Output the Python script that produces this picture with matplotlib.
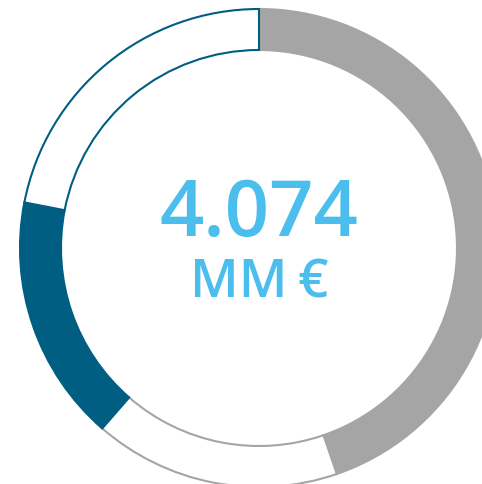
import matplotlib
matplotlib.use("Agg")
import matplotlib.pyplot as plt

# segment sizes (degrees of the ring), clockwise from 12 o'clock
segments = [161, 60, 60, 79]
face_colors = ['#A5A5A5', 'white', '#005E82', 'white']
edge_colors = ['#A5A5A5', '#A5A5A5', '#005E82', '#005E82']
value_text = '4.074'
unit_text = 'MM\u2009€'

W, H = 482, 485
fig = plt.figure(figsize=(W / 100, H / 100), dpi=100)
ax = fig.add_axes([0, 0, 1, 1])

cx, cy = 259, H - 249
r_out = 239
ring = 41

wedges, _ = ax.pie(segments, radius=r_out, center=(cx, cy), startangle=90,
                   counterclock=False, colors=face_colors,
                   wedgeprops=dict(width=ring, linewidth=1.5))
for w, ec in zip(wedges, edge_colors):
    w.set_edgecolor(ec)

ax.set_xlim(0, W)
ax.set_ylim(0, H)
ax.set_aspect('equal')
ax.axis('off')

ax.text(cx, H - 216, value_text, ha='center', va='center', fontsize=56,
        color='#4CBEEE', family=['Open Sans', 'DejaVu Sans'], weight='semibold')
ax.text(cx, H - 284, unit_text, ha='center', va='center', fontsize=38,
        color='#4CBEEE', family=['Open Sans', 'DejaVu Sans'], weight='semibold')

fig.savefig('out.png', dpi=100)
